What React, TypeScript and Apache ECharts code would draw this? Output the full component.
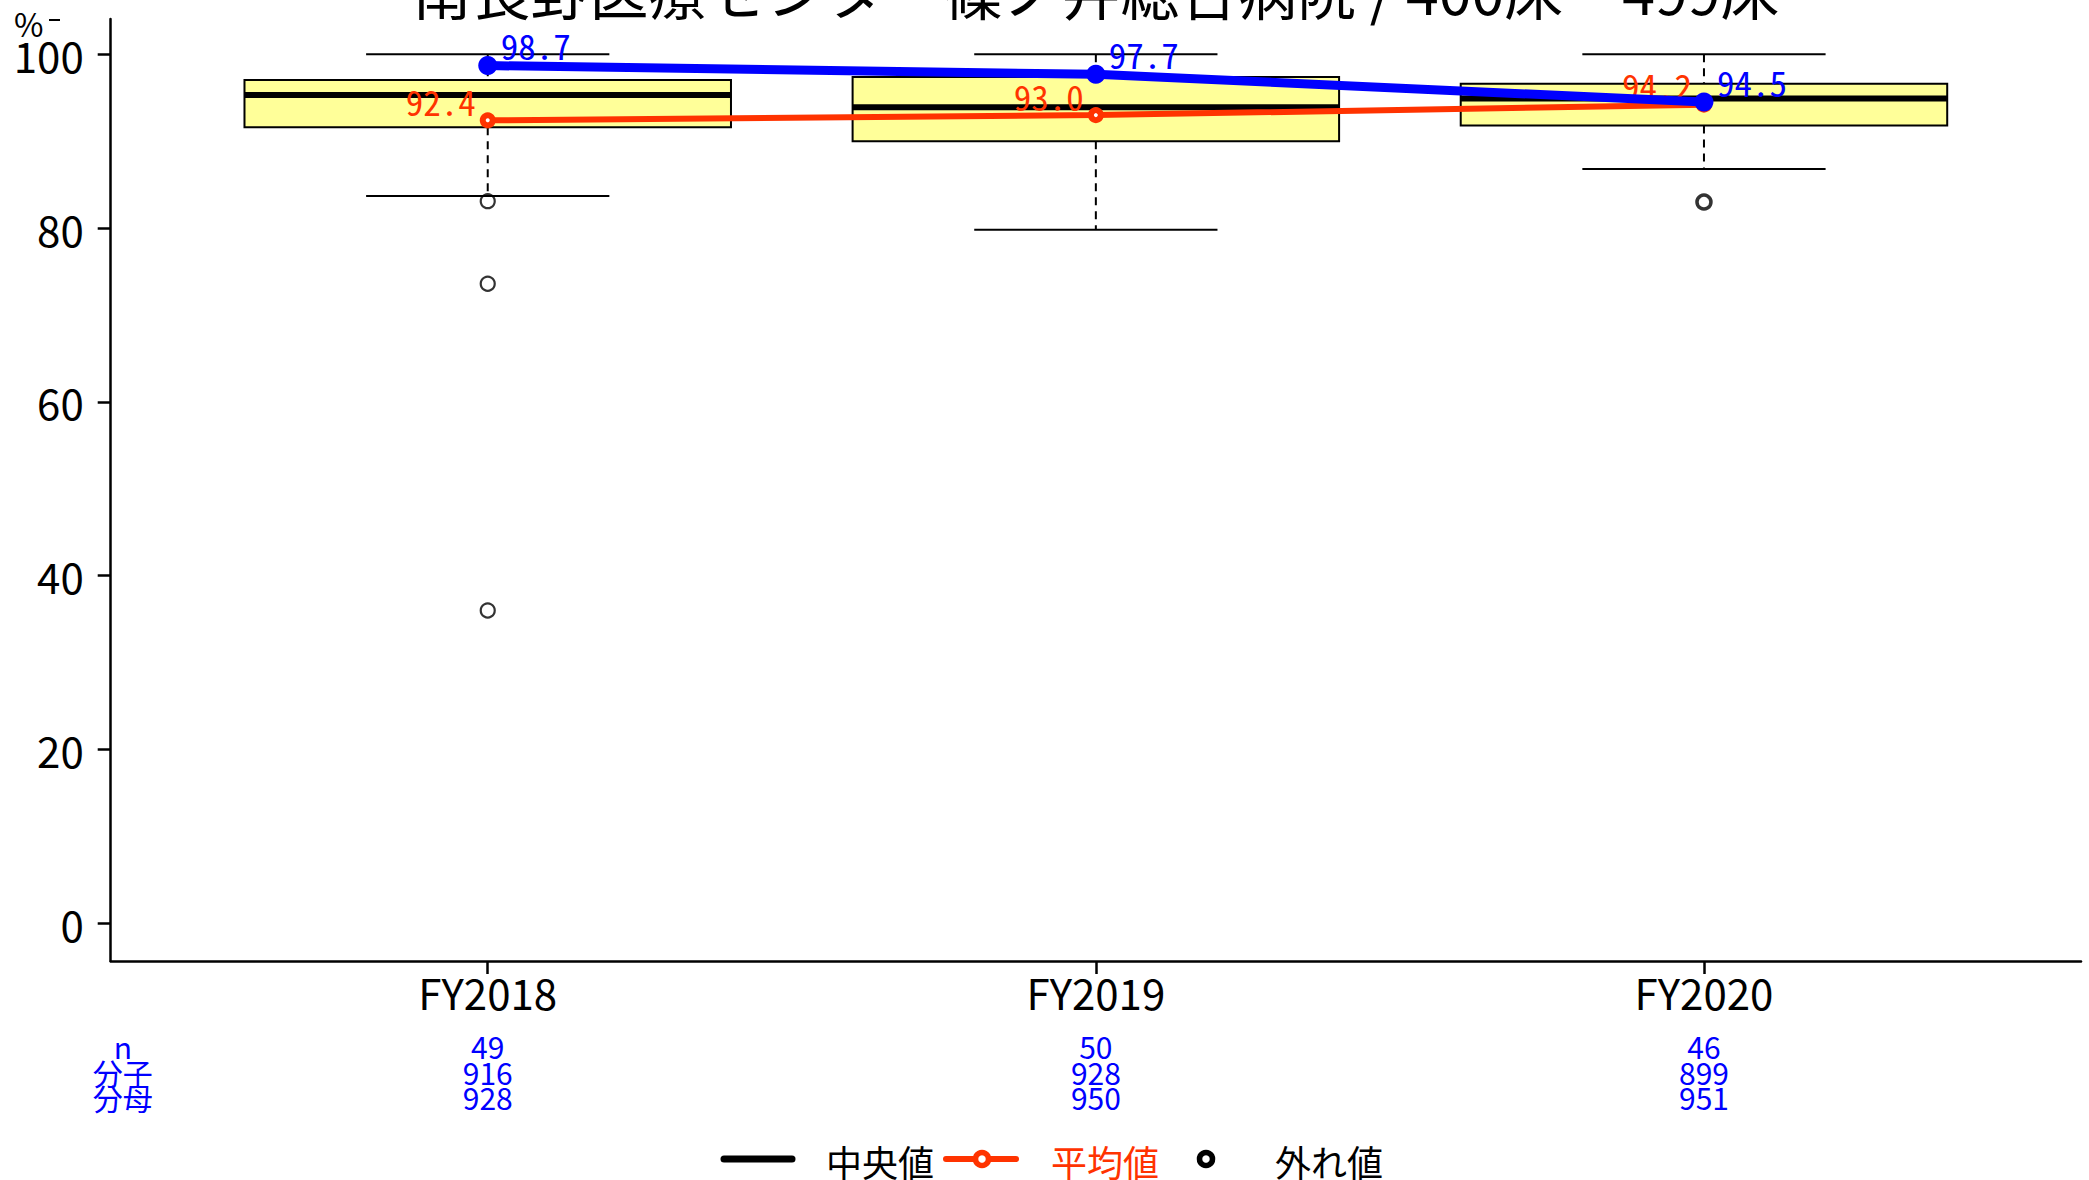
import React, { useEffect, useRef } from 'react';
import * as echarts from 'echarts';

// ---- data ----
const categories = ['FY2018', 'FY2019', 'FY2020'];
const catPos = [1, 2, 3];
const whiskerLow = [83.7, 79.8, 86.8];
const q1 = [91.6, 90.0, 91.8];
const median = [95.3, 93.9, 94.9];
const q3 = [97.05, 97.4, 96.6];
const whiskerHigh = [100, 100, 100];
const outlierCat = [1, 1, 1, 3];
const outlierVal = [83.1, 73.6, 36.0, 83.0];
const meanValues = [92.4, 93.0, 94.2];
const hospitalValues = [98.7, 97.7, 94.5];
const nCounts = [49, 50, 46];
const numerators = [916, 928, 899];
const denominators = [928, 950, 951];
const yTicks = [0, 20, 40, 60, 80, 100];
const rowHeaders = ['n', '分子', '分母'];
const legendLabels = ['中央値', '平均値', '外れ値'];
const titleText = '南長野医療センター篠ノ井総合病院 / 400床－499床';
const unitText = '%';

// ---- layout / style constants ----
const X_MIN = 0.38;
const X_MAX = 3.62;
const Y_MIN = -4.34;
const Y_MAX = 104.06;
const HEADER_X = 0.4;
const BOX_HALF = 0.4;
const CAP_HALF = 0.2;
const BLUE = '#0000FF';
const RED = '#FF3300';
const NARROW = '"Liberation Sans Narrow", "Noto Sans CJK JP", sans-serif';
const CJK = '"Noto Sans CJK JP", sans-serif';
const MONO = '"Noto Sans Mono CJK JP", "DejaVu Sans Mono", monospace';

export default function App() {
  const ref = useRef<HTMLDivElement>(null);

  useEffect(() => {
    if (!ref.current) return;
    const chart = echarts.init(ref.current, undefined, { renderer: 'svg' });

    const boxData = catPos.map((x, i) => [x, whiskerLow[i], q1[i], median[i], q3[i], whiskerHigh[i]]);
    const outlierData = outlierCat.map((x, i) => ({
      value: [x, outlierVal[i]],
      itemStyle: { borderWidth: x === 3 ? 3.5 : 2.2 },
    }));
    const meanData = catPos.map((x, i) => [x, meanValues[i]]);
    const hospData = catPos.map((x, i) => [x, hospitalValues[i]]);

    const renderBox = (params: any, api: any) => {
      const x = api.value(0);
      const lo = api.value(1);
      const b1 = api.value(2);
      const md = api.value(3);
      const b3 = api.value(4);
      const hi = api.value(5);
      const tl = api.coord([x - BOX_HALF, b3]);
      const br = api.coord([x + BOX_HALF, b1]);
      const mL = api.coord([x - BOX_HALF, md]);
      const mR = api.coord([x + BOX_HALF, md]);
      const pLo = api.coord([x, lo]);
      const pHi = api.coord([x, hi]);
      const pQ1 = api.coord([x, b1]);
      const pQ3 = api.coord([x, b3]);
      const cLoL = api.coord([x - CAP_HALF, lo]);
      const cLoR = api.coord([x + CAP_HALF, lo]);
      const cHiL = api.coord([x - CAP_HALF, hi]);
      const cHiR = api.coord([x + CAP_HALF, hi]);
      const dash = { stroke: '#000', lineWidth: 2, lineDash: [8, 6] };
      const cap = { stroke: '#000', lineWidth: 2 };
      return {
        type: 'group',
        children: [
          { type: 'line', shape: { x1: pHi[0], y1: pHi[1], x2: pQ3[0], y2: pQ3[1] }, style: dash },
          { type: 'line', shape: { x1: pQ1[0], y1: pQ1[1], x2: pLo[0], y2: pLo[1] }, style: dash },
          { type: 'line', shape: { x1: cHiL[0], y1: cHiL[1], x2: cHiR[0], y2: cHiR[1] }, style: cap },
          { type: 'line', shape: { x1: cLoL[0], y1: cLoL[1], x2: cLoR[0], y2: cLoR[1] }, style: cap },
          {
            type: 'rect',
            shape: { x: tl[0], y: tl[1], width: br[0] - tl[0], height: br[1] - tl[1] },
            style: { fill: '#FFFF99', stroke: '#000', lineWidth: 2 },
          },
          { type: 'line', shape: { x1: mL[0], y1: mL[1], x2: mR[0], y2: mR[1] }, style: { stroke: '#000', lineWidth: 6 } },
        ],
      };
    };

    const legendY = 1159;
    const option: any = {
      animation: false,
      backgroundColor: '#ffffff',
      grid: { left: 110.7, right: 8, top: 19, bottom: 219, containLabel: false },
      xAxis: [
        {
          type: 'value',
          min: X_MIN,
          max: X_MAX,
          position: 'bottom',
          axisLine: { show: true, onZero: false, lineStyle: { color: '#000', width: 2.5 } },
          axisTick: { show: true, length: 13, lineStyle: { color: '#000', width: 2.5 }, customValues: catPos },
          axisLabel: {
            customValues: catPos,
            formatter: (v: number) => categories[Math.round(v) - 1] ?? '',
            fontSize: 42,
            fontFamily: NARROW,
            color: '#000',
            margin: 9,
          },
          splitLine: { show: false },
        },
        {
          type: 'value',
          min: X_MIN,
          max: X_MAX,
          position: 'bottom',
          axisLine: { show: false, onZero: false },
          axisTick: { show: false },
          splitLine: { show: false },
          axisLabel: {
            customValues: [HEADER_X, ...catPos],
            formatter: (v: number) => {
              if (Math.abs(v - HEADER_X) < 1e-6) return rowHeaders.join('\n');
              const i = Math.round(v) - 1;
              return `${nCounts[i]}\n${numerators[i]}\n${denominators[i]}`;
            },
            color: BLUE,
            fontSize: 30,
            lineHeight: 25.5,
            fontFamily: NARROW,
            margin: 72.5,
          },
        },
      ],
      yAxis: {
        type: 'value',
        min: Y_MIN,
        max: Y_MAX,
        axisLine: { show: true, onZero: false, lineStyle: { color: '#000', width: 2.5 } },
        axisTick: { show: true, length: 13, lineStyle: { color: '#000', width: 2.5 }, customValues: yTicks },
        axisLabel: {
          customValues: yTicks,
          fontSize: 42,
          fontFamily: NARROW,
          color: '#000',
          margin: 27,
        },
        splitLine: { show: false },
      },
      series: [
        {
          type: 'custom',
          name: 'box',
          renderItem: renderBox,
          encode: { x: 0, y: [1, 2, 3, 4, 5] },
          data: boxData,
          z: 2,
        },
        {
          type: 'scatter',
          name: '外れ値',
          data: outlierData,
          symbol: 'circle',
          symbolSize: 14,
          itemStyle: { color: 'rgba(255,255,255,0)', borderColor: '#000', borderWidth: 2.2 },
          z: 3,
        },
        {
          type: 'line',
          name: '平均値',
          data: meanData,
          symbol: 'circle',
          symbolSize: 10,
          lineStyle: { color: RED, width: 6 },
          itemStyle: { color: '#fff', borderColor: RED, borderWidth: 6 },
          label: {
            show: true,
            position: 'inside',
            align: 'right',
            verticalAlign: 'middle',
            offset: [-12, -20],
            color: RED,
            fontSize: 35,
            fontFamily: MONO,
            formatter: (p: any) => Number(p.value[1]).toFixed(1),
          },
          z: 4,
        },
        {
          type: 'line',
          name: 'hospital',
          data: hospData,
          symbol: 'circle',
          symbolSize: 19,
          lineStyle: { color: BLUE, width: 9 },
          itemStyle: { color: BLUE },
          label: {
            show: true,
            position: 'inside',
            align: 'left',
            verticalAlign: 'middle',
            offset: [13, -21],
            color: BLUE,
            fontSize: 35,
            fontFamily: MONO,
            formatter: (p: any) => Number(p.value[1]).toFixed(1),
          },
          z: 5,
        },
      ],
      graphic: [
        {
          type: 'text',
          x: 1096,
          y: -11,
          style: { text: titleText, fill: '#000', font: `59px ${CJK}`, textAlign: 'center', textVerticalAlign: 'middle' },
        },
        {
          type: 'text',
          x: 14,
          y: 23,
          style: { text: unitText, fill: '#000', font: `32px ${NARROW}`, textAlign: 'left', textVerticalAlign: 'middle' },
        },
        { type: 'line', shape: { x1: 49, y1: 20, x2: 60, y2: 20 }, style: { stroke: '#000', lineWidth: 2 } },
        // legend
        { type: 'line', shape: { x1: 724, y1: legendY, x2: 792, y2: legendY }, style: { stroke: '#000', lineWidth: 7, lineCap: 'round' } },
        {
          type: 'text', x: 826, y: legendY + 2,
          style: { text: legendLabels[0], fill: '#000', font: `36px ${CJK}`, textAlign: 'left', textVerticalAlign: 'middle' },
        },
        { type: 'line', shape: { x1: 946, y1: legendY, x2: 1016, y2: legendY }, style: { stroke: RED, lineWidth: 6, lineCap: 'round' } },
        { type: 'circle', shape: { cx: 982, cy: legendY, r: 6.5 }, style: { fill: '#fff', stroke: RED, lineWidth: 5.5 } },
        {
          type: 'text', x: 1051, y: legendY + 2,
          style: { text: legendLabels[1], fill: RED, font: `36px ${CJK}`, textAlign: 'left', textVerticalAlign: 'middle' },
        },
        { type: 'circle', shape: { cx: 1206, cy: legendY, r: 6.5 }, style: { fill: '#fff', stroke: '#000', lineWidth: 5.5 } },
        {
          type: 'text', x: 1275, y: legendY + 2,
          style: { text: legendLabels[2], fill: '#000', font: `36px ${CJK}`, textAlign: 'left', textVerticalAlign: 'middle' },
        },
      ],
    };

    chart.setOption(option);
    return () => chart.dispose();
  }, []);

  return (
    <div
      ref={ref}
      style={{ position: 'fixed', left: 0, top: 0, width: 2089, height: 1180, background: '#fff' }}
    />
  );
}
